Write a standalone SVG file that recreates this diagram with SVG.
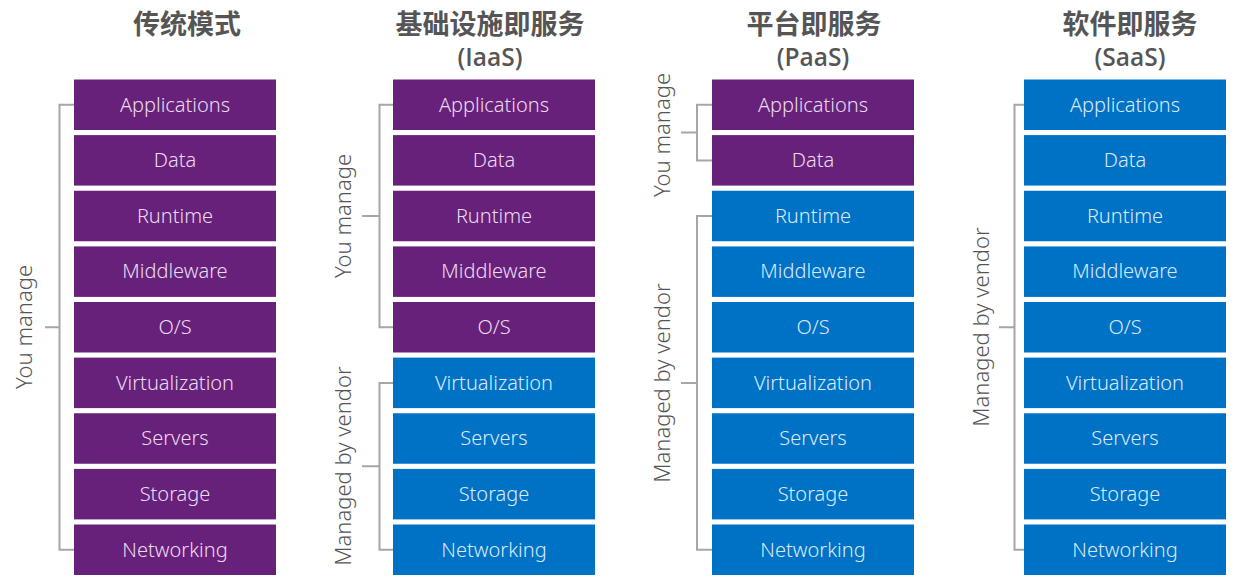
<svg xmlns="http://www.w3.org/2000/svg" width="1250" height="584" viewBox="0 0 1250 584">
<style>
.title{font-family:"Noto Sans CJK SC","Noto Sans",sans-serif;font-weight:bold;font-size:27px;fill:#555;text-anchor:middle}
.sub{font-family:"Open Sans","Noto Sans",sans-serif;font-weight:600;font-size:24.5px;fill:#555;text-anchor:middle}
.p rect{fill:#68217A}
.b rect{fill:#0072C6}
.box text{font-family:"Noto Sans","Open Sans",sans-serif;font-weight:300;font-size:20px;text-anchor:middle}
.p text{fill:#eadcf0}
.b text{fill:#dbeaf8}
.side{font-family:"Noto Sans","Open Sans",sans-serif;font-weight:300;font-size:22px;fill:#555;text-anchor:middle}
.br{fill:none;stroke:#a6a6a6;stroke-width:2}
</style>
<g id="titles">
<text class="title" x="187" y="34">传统模式</text>
<text class="title" x="490" y="34">基础设施即服务</text>
<text class="sub" x="490" y="66">(IaaS)</text>
<text class="title" x="814" y="34">平台即服务</text>
<text class="sub" x="813" y="66">(PaaS)</text>
<text class="title" x="1130" y="34">软件即服务</text>
<text class="sub" x="1130" y="66">(SaaS)</text>
</g>
<g id="connectors">
<path class="br" d="M74 104.75 H59.5 V549.75 H74 M45 327.25 H59.5"/>
<path class="br" d="M393 104.75 H379.5 V327.25 H393 M362 216 H379.5"/>
<path class="br" d="M393 382.9 H379.5 V549.75 H393 M362 466.3 H379.5"/>
<path class="br" d="M712 104.75 H697 V160.4 H712 M681 132.6 H697"/>
<path class="br" d="M712 216 H697 V549.75 H712 M681 382.9 H697"/>
<path class="br" d="M1024 104.75 H1014.5 V549.75 H1024 M999 327.25 H1014.5"/>
</g>
<g id="side-labels">
<text class="side" transform="translate(24 327) rotate(-90)" dy="0.35em">You manage</text>
<text class="side" transform="translate(343 216) rotate(-90)" dy="0.35em">You manage</text>
<text class="side" transform="translate(343 466) rotate(-90)" dy="0.35em">Managed by vendor</text>
<text class="side" transform="translate(662 135) rotate(-90)" dy="0.35em">You manage</text>
<text class="side" transform="translate(662 383) rotate(-90)" dy="0.35em">Managed by vendor</text>
<text class="side" transform="translate(981 327) rotate(-90)" dy="0.35em">Managed by vendor</text>
</g>
<g id="col-traditional">
<g id="t-app" class="box p"><rect x="74" y="79.5" width="202" height="50.5"/><text x="175" y="111.5">Applications</text></g>
<g id="t-data" class="box p"><rect x="74" y="135.1" width="202" height="50.5"/><text x="175" y="167.1">Data</text></g>
<g id="t-run" class="box p"><rect x="74" y="190.75" width="202" height="50.5"/><text x="175" y="222.75">Runtime</text></g>
<g id="t-mid" class="box p"><rect x="74" y="246.4" width="202" height="50.5"/><text x="175" y="278.4">Middleware</text></g>
<g id="t-os" class="box p"><rect x="74" y="302" width="202" height="50.5"/><text x="175" y="334">O/S</text></g>
<g id="t-virt" class="box p"><rect x="74" y="357.6" width="202" height="50.5"/><text x="175" y="389.6">Virtualization</text></g>
<g id="t-srv" class="box p"><rect x="74" y="413.25" width="202" height="50.5"/><text x="175" y="445.25">Servers</text></g>
<g id="t-sto" class="box p"><rect x="74" y="468.9" width="202" height="50.5"/><text x="175" y="500.9">Storage</text></g>
<g id="t-net" class="box p"><rect x="74" y="524.5" width="202" height="50.5"/><text x="175" y="556.5">Networking</text></g>
</g>
<g id="col-iaas">
<g id="i-app" class="box p"><rect x="393" y="79.5" width="202" height="50.5"/><text x="494" y="111.5">Applications</text></g>
<g id="i-data" class="box p"><rect x="393" y="135.1" width="202" height="50.5"/><text x="494" y="167.1">Data</text></g>
<g id="i-run" class="box p"><rect x="393" y="190.75" width="202" height="50.5"/><text x="494" y="222.75">Runtime</text></g>
<g id="i-mid" class="box p"><rect x="393" y="246.4" width="202" height="50.5"/><text x="494" y="278.4">Middleware</text></g>
<g id="i-os" class="box p"><rect x="393" y="302" width="202" height="50.5"/><text x="494" y="334">O/S</text></g>
<g id="i-virt" class="box b"><rect x="393" y="357.6" width="202" height="50.5"/><text x="494" y="389.6">Virtualization</text></g>
<g id="i-srv" class="box b"><rect x="393" y="413.25" width="202" height="50.5"/><text x="494" y="445.25">Servers</text></g>
<g id="i-sto" class="box b"><rect x="393" y="468.9" width="202" height="50.5"/><text x="494" y="500.9">Storage</text></g>
<g id="i-net" class="box b"><rect x="393" y="524.5" width="202" height="50.5"/><text x="494" y="556.5">Networking</text></g>
</g>
<g id="col-paas">
<g id="p-app" class="box p"><rect x="712" y="79.5" width="202" height="50.5"/><text x="813" y="111.5">Applications</text></g>
<g id="p-data" class="box p"><rect x="712" y="135.1" width="202" height="50.5"/><text x="813" y="167.1">Data</text></g>
<g id="p-run" class="box b"><rect x="712" y="190.75" width="202" height="50.5"/><text x="813" y="222.75">Runtime</text></g>
<g id="p-mid" class="box b"><rect x="712" y="246.4" width="202" height="50.5"/><text x="813" y="278.4">Middleware</text></g>
<g id="p-os" class="box b"><rect x="712" y="302" width="202" height="50.5"/><text x="813" y="334">O/S</text></g>
<g id="p-virt" class="box b"><rect x="712" y="357.6" width="202" height="50.5"/><text x="813" y="389.6">Virtualization</text></g>
<g id="p-srv" class="box b"><rect x="712" y="413.25" width="202" height="50.5"/><text x="813" y="445.25">Servers</text></g>
<g id="p-sto" class="box b"><rect x="712" y="468.9" width="202" height="50.5"/><text x="813" y="500.9">Storage</text></g>
<g id="p-net" class="box b"><rect x="712" y="524.5" width="202" height="50.5"/><text x="813" y="556.5">Networking</text></g>
</g>
<g id="col-saas">
<g id="s-app" class="box b"><rect x="1024" y="79.5" width="202" height="50.5"/><text x="1125" y="111.5">Applications</text></g>
<g id="s-data" class="box b"><rect x="1024" y="135.1" width="202" height="50.5"/><text x="1125" y="167.1">Data</text></g>
<g id="s-run" class="box b"><rect x="1024" y="190.75" width="202" height="50.5"/><text x="1125" y="222.75">Runtime</text></g>
<g id="s-mid" class="box b"><rect x="1024" y="246.4" width="202" height="50.5"/><text x="1125" y="278.4">Middleware</text></g>
<g id="s-os" class="box b"><rect x="1024" y="302" width="202" height="50.5"/><text x="1125" y="334">O/S</text></g>
<g id="s-virt" class="box b"><rect x="1024" y="357.6" width="202" height="50.5"/><text x="1125" y="389.6">Virtualization</text></g>
<g id="s-srv" class="box b"><rect x="1024" y="413.25" width="202" height="50.5"/><text x="1125" y="445.25">Servers</text></g>
<g id="s-sto" class="box b"><rect x="1024" y="468.9" width="202" height="50.5"/><text x="1125" y="500.9">Storage</text></g>
<g id="s-net" class="box b"><rect x="1024" y="524.5" width="202" height="50.5"/><text x="1125" y="556.5">Networking</text></g>
</g>
</svg>
